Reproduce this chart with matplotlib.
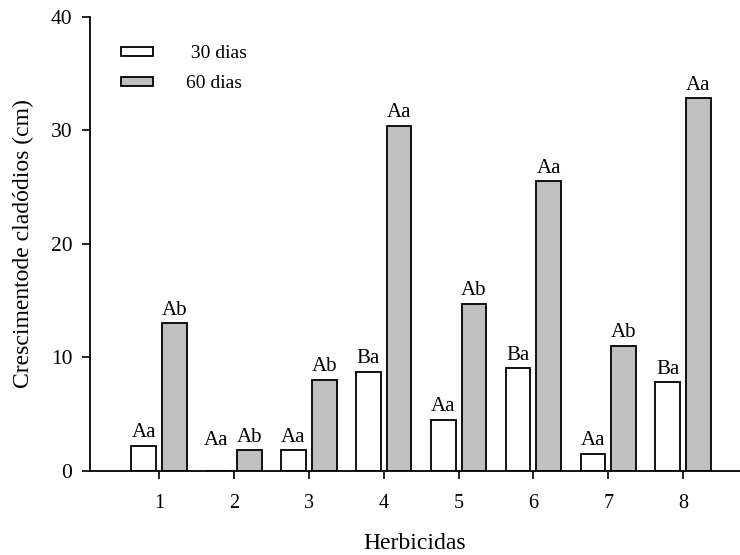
import numpy as np
import matplotlib.pyplot as plt

plt.rcParams['font.family'] = ['Liberation Serif', 'DejaVu Serif']

herbicidas = [1, 2, 3, 4, 5, 6, 7, 8]
dias30 = [2.2, 0.0, 1.8, 8.7, 4.5, 9.0, 1.5, 7.8]
dias60 = [13.0, 1.8, 8.0, 30.4, 14.7, 25.5, 11.0, 32.8]
letras30 = ["Aa", "Aa", "Aa", "Ba", "Aa", "Ba", "Aa", "Ba"]
letras60 = ["Ab", "Ab", "Ab", "Aa", "Ab", "Aa", "Ab", "Aa"]

x = np.array(herbicidas)
w = 0.33
off = 0.205

fig = plt.figure(figsize=(7.4, 5.55), dpi=100)
ax = fig.add_axes([0.122, 0.152, 0.878, 0.818])

ax.bar(x - off, dias30, w, color="white", edgecolor="black", linewidth=1.3, label=" 30 dias")
ax.bar(x + off, dias60, w, color="#c0c0c0", edgecolor="black", linewidth=1.3, label="60 dias")

# letras sobre as barras (barra zero recebe a letra na altura da vizinha)
for xi, v, t in zip(x, dias30, letras30):
    ax.text(xi - off - (0.04 if v == 0 else 0), max(v, 1.5) + 0.3, t,
            ha="center", va="bottom", fontsize=15)
for xi, v, t in zip(x, dias60, letras60):
    ax.text(xi + off, v + 0.3, t, ha="center", va="bottom", fontsize=15)

ax.set_xlim(0.08, 8.76)
ax.set_ylim(0, 40)
ax.set_xticks(herbicidas)
ax.set_yticks([0, 10, 20, 30, 40])
ax.tick_params(axis="x", direction="out", length=6, width=1.2, pad=11, labelsize=14.5)
ax.tick_params(axis="y", direction="out", length=6, width=1.2, pad=7, labelsize=15.5)
for s in ["top", "right"]:
    ax.spines[s].set_visible(False)
for s in ["left", "bottom"]:
    ax.spines[s].set_linewidth(1.3)

ax.set_xlabel("Herbicidas", fontsize=17, labelpad=14)
ax.set_ylabel("Crescimentode cladódios (cm)", fontsize=17, labelpad=12)

ax.legend(loc="upper left", bbox_to_anchor=(0.02, 0.975), frameon=False, fontsize=14,
          handlelength=1.65, handleheight=0.35, handletextpad=1.7, labelspacing=0.65)

fig.savefig("out.png", dpi=100)
